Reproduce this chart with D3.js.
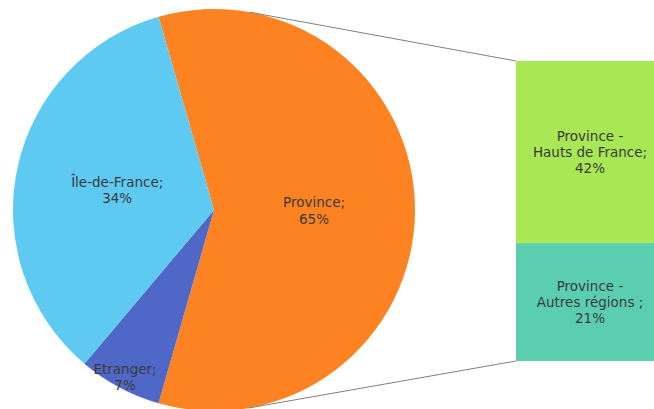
<!DOCTYPE html>
<html>
<head>
<meta charset="utf-8">
<script src="https://cdn.jsdelivr.net/npm/d3@7"></script>
<style>
  body { margin: 0; background: #fff; }
  text { font-family: Verdana, "DejaVu Sans", sans-serif; font-size: 13.5px; fill: #3a3a3a; }
</style>
</head>
<body>
<div id="chart"></div>
<script>
const WIDTH = 654;
const HEIGHT = 409;

// pie: share of the circle each slice takes and its label
const sliceNames = ["Province", "Etranger", "Île-de-France"];
const sliceShares = [58.9, 6.7, 34.4];
const sliceLabels = ["65%", "7%", "34%"];

// bar that breaks down the Province slice
const barNames = [["Province -", "Hauts de France;"], ["Province -", "Autres régions ;"]];
const barShares = [60.7, 39.3];
const barLabels = ["42%", "21%"];

const sliceColors = ["#fd8221", "#4f68c8", "#5ecaf2"];
const barColors = ["#a7e854", "#5bceb0"];

const CX = 214, CY = 210, RADIUS = 201;
const BAR_X = 516, BAR_W = 150, BAR_TOP = 61, BAR_BOTTOM = 361;

const svg = d3.select("#chart")
    .append("svg")
        .attr("width", WIDTH)
        .attr("height", HEIGHT);

// the first slice is centred on 3 o'clock, like Excel's bar-of-pie
const total = d3.sum(sliceShares);
const start = Math.PI / 2 - (sliceShares[0] / total) * Math.PI;

const pie = d3.pie()
    .sort(null)
    .startAngle(start)
    .endAngle(start + 2 * Math.PI);

const arcs = pie(sliceShares);
const arc = d3.arc().innerRadius(0).outerRadius(RADIUS);

const g = svg.append("g")
    .attr("transform", `translate(${CX}, ${CY})`);

g.selectAll("path.slice")
    .data(arcs)
    .enter()
    .append("path")
    .attr("class", "slice")
    .attr("d", arc)
    .attr("fill", (d, i) => sliceColors[i]);

// label radius per slice: small slice gets its label near the rim
const labelRadius = [100, 189, 99];
const labels = g.selectAll("text.slice-label")
    .data(arcs)
    .enter()
    .append("text")
    .attr("class", "slice-label")
    .attr("text-anchor", "middle")
    .attr("transform", (d, i) => {
        const c = d3.arc().innerRadius(labelRadius[i]).outerRadius(labelRadius[i]).centroid(d);
        return `translate(${c[0]}, ${c[1]})`;
    });
labels.append("tspan").attr("x", 0).attr("dy", "-0.2em").text((d, i) => sliceNames[i] + ";");
labels.append("tspan").attr("x", 0).attr("dy", "1.2em").text((d, i) => sliceLabels[i]);

// stacked bar
const y = d3.scaleLinear()
    .domain([0, d3.sum(barShares)])
    .range([BAR_TOP, BAR_BOTTOM]);

const stacked = barShares.map((v, i) => ({
    y0: d3.sum(barShares.slice(0, i)),
    y1: d3.sum(barShares.slice(0, i + 1)),
    i
}));

svg.selectAll("rect.bar")
    .data(stacked)
    .enter()
    .append("rect")
    .attr("class", "bar")
    .attr("x", BAR_X)
    .attr("width", BAR_W)
    .attr("y", d => y(d.y0))
    .attr("height", d => y(d.y1) - y(d.y0))
    .attr("fill", d => barColors[d.i]);

const barText = svg.selectAll("text.bar-label")
    .data(stacked)
    .enter()
    .append("text")
    .attr("class", "bar-label")
    .attr("text-anchor", "middle")
    .attr("transform", d => `translate(${BAR_X + BAR_W / 2 - 1}, ${(y(d.y0) + y(d.y1)) / 2})`);
barText.append("tspan").attr("x", 0).attr("dy", "-0.85em").text(d => barNames[d.i][0]);
barText.append("tspan").attr("x", 0).attr("dy", "1.2em").text(d => barNames[d.i][1]);
barText.append("tspan").attr("x", 0).attr("dy", "1.2em").text(d => barLabels[d.i]);

// connector lines, tangent to the pie from the bar corners
function tangent(px, py, side) {
    const dx = px - CX, dy = py - CY;
    const d = Math.hypot(dx, dy);
    const a = Math.atan2(dy, dx) + side * Math.acos(RADIUS / d);
    return [CX + RADIUS * Math.cos(a), CY + RADIUS * Math.sin(a)];
}

[[BAR_TOP, -1], [BAR_BOTTOM, 1]].forEach(([by, side]) => {
    const t = tangent(BAR_X, by, side);
    svg.append("line")
        .attr("x1", t[0]).attr("y1", t[1])
        .attr("x2", BAR_X).attr("y2", by)
        .attr("stroke", "#808080")
        .attr("stroke-width", 1);
});
</script>
</body>
</html>
